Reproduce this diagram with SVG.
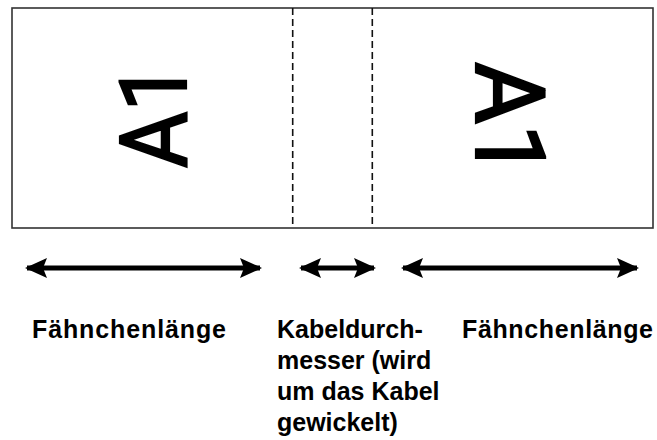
<svg xmlns="http://www.w3.org/2000/svg" width="657" height="440" viewBox="0 0 657 440">
<style>
.frame{fill:#fff;stroke:#333;stroke-width:1.6}
.dash{stroke:#111;stroke-width:1.6;stroke-dasharray:7 4;fill:none}
.big{font-family:Roboto,"Liberation Sans",Arial,sans-serif;fill:#000;stroke:#000;stroke-width:2.2;stroke-linejoin:miter}
.lbl{font-family:"Liberation Sans",Arial,sans-serif;font-size:25px;font-weight:bold;fill:#000}
.arr{stroke:#000;stroke-width:5;fill:none;marker-start:url(#ah);marker-end:url(#ah)}
</style>
<defs>
<marker id="ah" viewBox="0 0 22 20" refX="20" refY="10" markerWidth="22" markerHeight="20" markerUnits="userSpaceOnUse" orient="auto-start-reverse">
<path d="M0,0 L22,10 L0,20 L4,10 Z" fill="#000"/>
</marker>
</defs>
<rect width="657" height="440" fill="#fff"/>
<g id="label">
<rect class="frame" x="12" y="8" width="641" height="220"/>
<line class="dash" x1="292.7" y1="8" x2="292.7" y2="228"/>
<line class="dash" x1="372.3" y1="8" x2="372.3" y2="228"/>
<text class="big" font-size="93" transform="translate(186,168) rotate(-90) scale(0.93,1)">A1</text>
<text class="big" font-size="97" transform="translate(476,62) rotate(90) scale(0.98,1)">A1</text>
</g>
<g id="connectors">
<line class="arr" x1="27" y1="268" x2="260" y2="268"/>
<line class="arr" x1="301" y1="268" x2="374" y2="268"/>
<line class="arr" x1="403" y1="268" x2="637" y2="268"/>
</g>
<g id="text-left"><text class="lbl" x="32" y="338" textLength="194" lengthAdjust="spacing">Fähnchenlänge</text></g>
<g id="text-mid">
<text class="lbl" x="277" y="338">Kabeldurch-</text>
<text class="lbl" x="277" y="369">messer (wird</text>
<text class="lbl" x="277" y="400">um das Kabel</text>
<text class="lbl" x="277" y="431">gewickelt)</text>
</g>
<g id="text-right"><text class="lbl" x="462" y="338" textLength="191" lengthAdjust="spacing">Fähnchenlänge</text></g>
</svg>
